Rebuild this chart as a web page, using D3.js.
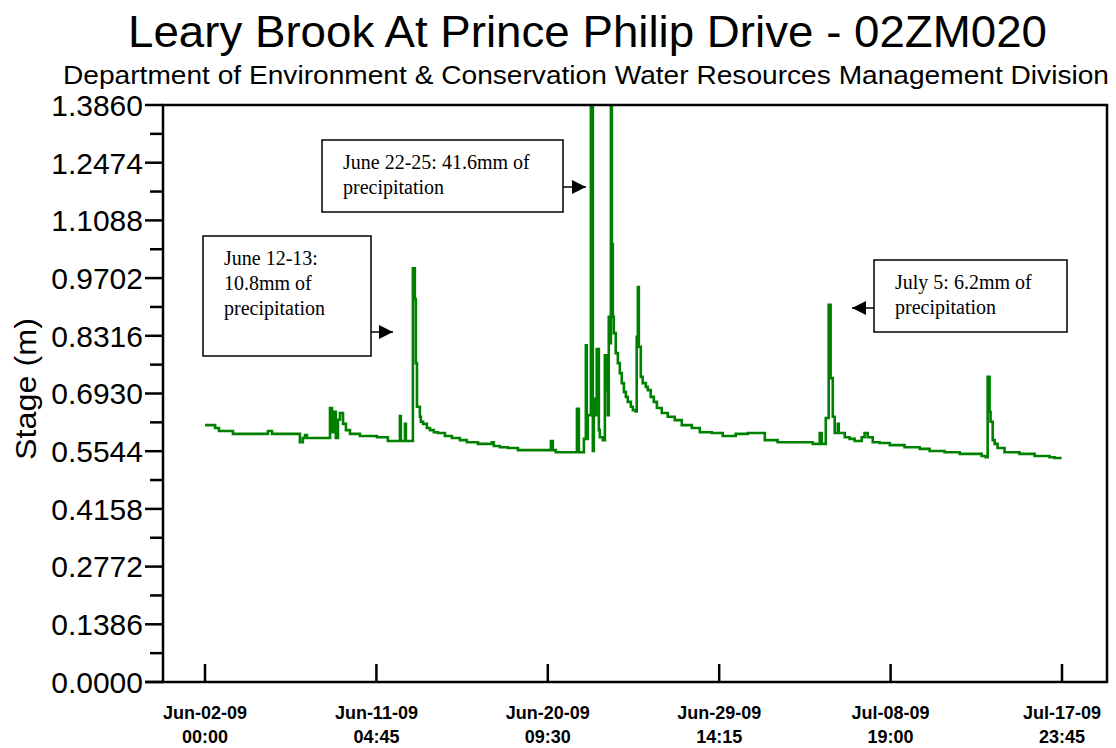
<!DOCTYPE html>
<html>
<head>
<meta charset="utf-8">
<script src="https://d3js.org/d3.v7.min.js"></script>
<style>
  body { margin: 0px; background: #fff; }
  .ylab text { font-family: Arial, "Liberation Sans", sans-serif; font-size: 30px; fill: #000; }
  .xlab text { font-family: Arial, "Liberation Sans", sans-serif; font-size: 18px; font-weight: bold; fill: #000; }
  .note { font-family: "Times New Roman", "Liberation Serif", serif; font-size: 20px; fill: #000; }
</style>
</head>
<body>
<div id="chart"></div>
<script>
// tick dates along the bottom
const tickDates = ["2009-06-02 00:00", "2009-06-11 04:45", "2009-06-20 09:30",
                   "2009-06-29 14:15", "2009-07-08 19:00", "2009-07-17 23:45"];
// stage tick values
const yTicks = [0, 0.1386, 0.2772, 0.4158, 0.5544, 0.6930, 0.8316, 0.9702, 1.1088, 1.2474, 1.3860];

// stage readings (m)
const times = [
  "2009-06-02 00:00", "2009-06-02 13:00", "2009-06-02 18:00", "2009-06-03 12:00", "2009-06-05 09:00",
  "2009-06-05 14:15", "2009-06-07 02:15", "2009-06-07 06:00", "2009-06-07 08:45", "2009-06-07 11:15",
  "2009-06-08 17:00", "2009-06-08 19:30", "2009-06-08 22:00", "2009-06-09 00:30", "2009-06-09 03:15",
  "2009-06-09 05:45", "2009-06-09 09:45", "2009-06-09 13:30", "2009-06-09 18:45", "2009-06-10 07:30",
  "2009-06-11 05:30", "2009-06-11 19:30", "2009-06-12 11:00", "2009-06-12 12:15", "2009-06-12 17:30",
  "2009-06-12 18:45", "2009-06-13 03:45", "2009-06-13 06:15", "2009-06-13 07:30", "2009-06-13 09:00",
  "2009-06-13 10:15", "2009-06-13 12:45", "2009-06-13 14:00", "2009-06-13 16:45", "2009-06-13 21:45",
  "2009-06-14 01:45", "2009-06-14 06:45", "2009-06-14 12:00", "2009-06-14 21:00", "2009-06-15 06:00",
  "2009-06-15 16:15", "2009-06-16 01:15", "2009-06-16 15:30", "2009-06-17 09:30", "2009-06-17 12:00",
  "2009-06-17 19:45", "2009-06-18 06:00", "2009-06-18 19:00", "2009-06-20 13:30", "2009-06-20 16:00",
  "2009-06-20 19:45", "2009-06-21 23:00", "2009-06-22 01:30", "2009-06-22 08:00", "2009-06-22 10:30",
  "2009-06-22 11:45", "2009-06-22 13:00", "2009-06-22 17:00", "2009-06-22 19:30", "2009-06-22 20:45",
  "2009-06-22 23:15", "2009-06-23 00:30", "2009-06-23 03:15", "2009-06-23 04:30", "2009-06-23 08:15",
  "2009-06-23 11:00", "2009-06-23 13:30", "2009-06-23 14:45", "2009-06-23 16:00", "2009-06-23 17:30",
  "2009-06-23 18:45", "2009-06-23 20:00", "2009-06-23 21:15", "2009-06-23 22:30", "2009-06-24 01:00",
  "2009-06-24 03:45", "2009-06-24 06:15", "2009-06-24 08:45", "2009-06-24 11:30", "2009-06-24 14:00",
  "2009-06-24 16:30", "2009-06-24 20:30", "2009-06-24 23:00", "2009-06-25 02:45", "2009-06-25 04:00",
  "2009-06-25 05:30", "2009-06-25 06:45", "2009-06-25 09:15", "2009-06-25 11:45", "2009-06-25 15:45",
  "2009-06-25 18:15", "2009-06-25 22:00", "2009-06-26 02:00", "2009-06-26 06:00", "2009-06-26 12:15",
  "2009-06-26 20:00", "2009-06-27 05:00", "2009-06-27 14:00", "2009-06-28 03:00", "2009-06-28 13:15",
  "2009-06-29 04:45", "2009-06-29 18:45", "2009-06-30 11:30", "2009-07-01 03:00", "2009-07-02 01:00",
  "2009-07-02 17:30", "2009-07-04 14:45", "2009-07-04 23:45", "2009-07-05 02:15", "2009-07-05 07:30",
  "2009-07-05 11:15", "2009-07-05 13:45", "2009-07-05 16:30", "2009-07-05 19:00", "2009-07-05 23:00",
  "2009-07-06 00:15", "2009-07-06 08:00", "2009-07-06 14:15", "2009-07-06 20:45", "2009-07-07 05:45",
  "2009-07-07 09:30", "2009-07-07 13:30", "2009-07-07 20:00", "2009-07-08 05:00", "2009-07-08 18:00",
  "2009-07-09 13:00", "2009-07-10 08:30", "2009-07-10 21:15", "2009-07-11 16:30", "2009-07-12 12:00",
  "2009-07-13 16:15", "2009-07-13 21:30", "2009-07-14 00:00", "2009-07-14 02:30", "2009-07-14 03:45",
  "2009-07-14 06:30", "2009-07-14 09:00", "2009-07-14 12:45", "2009-07-14 21:45", "2009-07-15 17:00",
  "2009-07-16 12:30", "2009-07-17 07:45", "2009-07-17 14:15", "2009-07-17 23:15"
];
const stage = [
  0.617, 0.610, 0.603, 0.596, 0.603,
  0.596, 0.576, 0.586, 0.593, 0.586,
  0.658, 0.600, 0.649, 0.586, 0.630,
  0.646, 0.620, 0.605, 0.596, 0.591,
  0.588, 0.579, 0.639, 0.579, 0.620,
  0.579, 0.994, 0.920, 0.766, 0.661,
  0.661, 0.637, 0.625, 0.620, 0.610,
  0.605, 0.600, 0.598, 0.591, 0.586,
  0.581, 0.576, 0.572, 0.576, 0.567,
  0.564, 0.562, 0.557, 0.579, 0.557,
  0.552, 0.656, 0.552, 0.584, 0.809,
  0.584, 0.641, 1.386, 0.555, 0.680,
  0.641, 0.800, 0.605, 0.588, 0.581,
  0.785, 0.701, 0.641, 0.877, 0.814,
  1.386, 1.052, 0.877, 0.838, 0.790,
  0.766, 0.742, 0.718, 0.697, 0.685,
  0.673, 0.661, 0.653, 0.650, 0.829,
  0.949, 0.805, 0.733, 0.718, 0.709,
  0.701, 0.685, 0.673, 0.658, 0.646,
  0.637, 0.629, 0.617, 0.610, 0.600,
  0.598, 0.591, 0.596, 0.598, 0.581,
  0.576, 0.572, 0.598, 0.572, 0.634,
  0.906, 0.730, 0.637, 0.598, 0.620,
  0.598, 0.588, 0.584, 0.579, 0.588,
  0.598, 0.588, 0.576, 0.574, 0.569,
  0.564, 0.560, 0.555, 0.552, 0.548,
  0.543, 0.540, 0.733, 0.649, 0.625,
  0.581, 0.572, 0.562, 0.552, 0.548,
  0.543, 0.540, 0.538, 0.538
];

const notes = [
  { lines: ["June 12-13:", "10.8mm of", "precipitation"], box: [203, 236, 168, 120], arrow: [371, 332, 393, 332] },
  { lines: ["June 22-25: 41.6mm of", "precipitation"], box: [322, 140, 241, 72], arrow: [563, 187, 586, 187] },
  { lines: ["July 5: 6.2mm of", "precipitation"], box: [874, 260, 193, 72], arrow: [874, 308, 852, 308] }
];

var W = 1116, H = 748;
var plot = { left: 163, top: 105, right: 1107, bottom: 682 };

var parse = d3.timeParse("%Y-%m-%d %H:%M");
var data = times.map(function (t, i) { return { t: parse(t), v: stage[i] }; });
var ticks = tickDates.map(parse);

var svg = d3.select("#chart").append("svg").attr("width", W).attr("height", H);

var x = d3.scaleTime()
    .domain([ticks[0], ticks[ticks.length - 1]])
    .range([205, 1062]);
var y = d3.scaleLinear()
    .domain([0, 1.386])
    .range([plot.bottom, plot.top]);

// title
svg.append("text")
    .attr("x", 128).attr("y", 47)
    .attr("textLength", 919).attr("lengthAdjust", "spacingAndGlyphs")
    .style("font-family", "Arial, 'Liberation Sans', sans-serif")
    .style("font-size", "45px")
    .text("Leary Brook At Prince Philip Drive - 02ZM020");
svg.append("text")
    .attr("x", 63).attr("y", 84)
    .attr("textLength", 1046).attr("lengthAdjust", "spacingAndGlyphs")
    .style("font-family", "Arial, 'Liberation Sans', sans-serif")
    .style("font-size", "26px")
    .text("Department of Environment & Conservation Water Resources Management Division");

// y label
svg.append("text")
    .attr("transform", "translate(36,389) rotate(-90)")
    .attr("text-anchor", "middle")
    .attr("textLength", 142).attr("lengthAdjust", "spacingAndGlyphs")
    .style("font-family", "Arial, 'Liberation Sans', sans-serif")
    .style("font-size", "29px")
    .text("Stage (m)");

// line
svg.append("clipPath").attr("id", "clip")
  .append("rect")
    .attr("x", plot.left).attr("y", plot.top - 1)
    .attr("width", plot.right - plot.left).attr("height", plot.bottom - plot.top + 1);

svg.append("path")
    .datum(data)
    .attr("clip-path", "url(#clip)")
    .attr("fill", "none")
    .attr("stroke", "#008000")
    .attr("stroke-width", 2.6)
    .attr("d", d3.line()
        .curve(d3.curveStepAfter)
        .x(function (d) { return x(d.t); })
        .y(function (d) { return y(d.v); }));

// frame
svg.append("rect")
    .attr("x", plot.left).attr("y", plot.top)
    .attr("width", plot.right - plot.left).attr("height", plot.bottom - plot.top)
    .attr("fill", "none").attr("stroke", "#000").attr("stroke-width", 2.5);

// y axis ticks + labels
var ya = svg.append("g").attr("class", "ylab");
ya.selectAll("line.major").data(yTicks).enter().append("line")
    .attr("x1", 145).attr("x2", plot.left)
    .attr("y1", function (d) { return y(d); }).attr("y2", function (d) { return y(d); })
    .attr("stroke", "#000").attr("stroke-width", 2.5);
ya.selectAll("line.minor").data(yTicks.slice(1)).enter().append("line")
    .attr("x1", 150).attr("x2", plot.left)
    .attr("y1", function (d) { return y(d - 0.0693); }).attr("y2", function (d) { return y(d - 0.0693); })
    .attr("stroke", "#000").attr("stroke-width", 2.5);
ya.selectAll("text").data(yTicks).enter().append("text")
    .attr("x", 143)
    .attr("y", function (d) { return y(d); })
    .attr("dy", "0.36em")
    .attr("text-anchor", "end")
    .text(d3.format(".4f"));

// x axis ticks + labels
var xa = svg.append("g").attr("class", "xlab");
xa.append("line")
    .attr("x1", 145).attr("x2", plot.left)
    .attr("y1", plot.bottom).attr("y2", plot.bottom)
    .attr("stroke", "#000").attr("stroke-width", 2.5);
xa.selectAll("line.t").data(ticks).enter().append("line")
    .attr("x1", function (d) { return x(d); }).attr("x2", function (d) { return x(d); })
    .attr("y1", plot.bottom - 18).attr("y2", plot.bottom)
    .attr("stroke", "#000").attr("stroke-width", 2.5);
var fmtD = d3.timeFormat("%b-%d-%y"), fmtT = d3.timeFormat("%H:%M");
xa.selectAll("text.d").data(ticks).enter().append("text")
    .attr("x", function (d) { return x(d); }).attr("y", 719)
    .attr("text-anchor", "middle").text(fmtD);
xa.selectAll("text.t").data(ticks).enter().append("text")
    .attr("x", function (d) { return x(d); }).attr("y", 743)
    .attr("text-anchor", "middle").text(fmtT);

// annotation boxes
svg.append("defs").append("marker")
    .attr("id", "arr").attr("viewBox", "0 0 10 10")
    .attr("refX", 10).attr("refY", 5)
    .attr("markerWidth", 15).attr("markerHeight", 14)
    .attr("markerUnits", "userSpaceOnUse")
    .attr("orient", "auto")
  .append("path").attr("d", "M0,0L10,5L0,10Z").attr("fill", "#000");

notes.forEach(function (n) {
    var g = svg.append("g");
    g.append("rect")
        .attr("x", n.box[0]).attr("y", n.box[1])
        .attr("width", n.box[2]).attr("height", n.box[3])
        .attr("fill", "#fff").attr("stroke", "#000").attr("stroke-width", 1.5);
    n.lines.forEach(function (s, i) {
        g.append("text").attr("class", "note")
            .attr("x", n.box[0] + 21).attr("y", n.box[1] + 29 + i * 25)
            .text(s);
    });
    g.append("line")
        .attr("x1", n.arrow[0]).attr("y1", n.arrow[1])
        .attr("x2", n.arrow[2]).attr("y2", n.arrow[3])
        .attr("stroke", "#000").attr("stroke-width", 1.5)
        .attr("marker-end", "url(#arr)");
});
</script>
</body>
</html>
